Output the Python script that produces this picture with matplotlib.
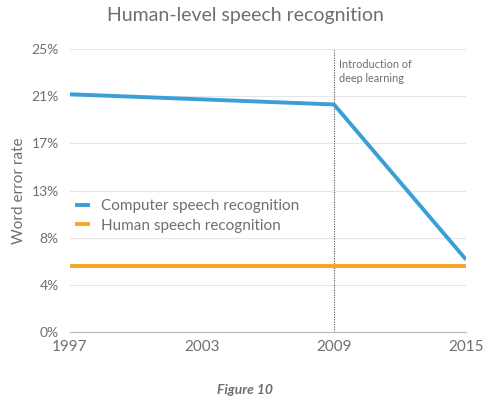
import numpy as np
import matplotlib
matplotlib.use("Agg")
import matplotlib.pyplot as plt

years = [1997, 2009, 2015]
computer = [21.0, 20.1, 6.4]
human_years = [1997, 2015]
human = [5.8, 5.8]
yticks = [0, 25/6, 50/6, 12.5, 100/6, 125/6, 25]
ytick_labels = ["0%", "4%", "8%", "13%", "17%", "21%", "25%"]
xticks = [1997, 2003, 2009, 2015]
xtick_labels = ["1997", "2003", "2009", "2015"]

plt.rcParams['font.family'] = ['Lato', 'DejaVu Sans']
gray = "#6f6f6f"
blue = "#3a9fd6"
orange = "#f6a623"

fig = plt.figure(figsize=(4.9, 3.99), dpi=100)
ax = fig.add_axes([70/490, 1 - 332/399, 396/490, 283/399])

ax.plot(years, computer, color=blue, lw=2.8, solid_capstyle='butt',
        label="Computer speech recognition", zorder=3)
ax.plot(human_years, human, color=orange, lw=2.8, solid_capstyle='butt',
        label="Human speech recognition", zorder=3)
ax.axvline(2009, color="#555555", lw=0.8, ls=(0, (1, 1.2)), zorder=2)

ax.set_xlim(1997, 2015)
ax.set_ylim(0, 25)
ax.set_yticks(yticks)
ax.set_yticklabels(ytick_labels)
ax.set_xticks(xticks)
ax.set_xticklabels(xtick_labels)
ax.grid(axis='y', color="#e6e6e6", lw=0.8)
ax.set_axisbelow(True)
for s in ['top', 'right', 'left']:
    ax.spines[s].set_visible(False)
ax.spines['bottom'].set_color("#bbbbbb")
ax.tick_params(axis='both', length=0, colors=gray)
ax.tick_params(axis='y', labelsize=10, pad=8)
ax.tick_params(axis='x', labelsize=11, pad=6)

ax.set_ylabel("Word error rate", color=gray, fontsize=11, labelpad=4)
ax.text(2009.22, 24.1, "Introduction of\ndeep learning", color=gray, fontsize=7.8,
        va='top', ha='left', linespacing=1.3)

leg = ax.legend(loc='center left', bbox_to_anchor=(-0.023, 0.41), frameon=False,
                fontsize=11, handlelength=1.0, handletextpad=0.7, labelspacing=0.35)
for t in leg.get_texts():
    t.set_color(gray)

fig.text(0.5, 1 - 16/399, "Human-level speech recognition", ha='center', va='center',
         color=gray, fontsize=14)
fig.text(0.5, 1 - 390/399, "Figure 10", ha='center', va='center', color=gray,
         fontsize=10, style='italic', fontweight='bold')

fig.savefig("out.png", dpi=100)
